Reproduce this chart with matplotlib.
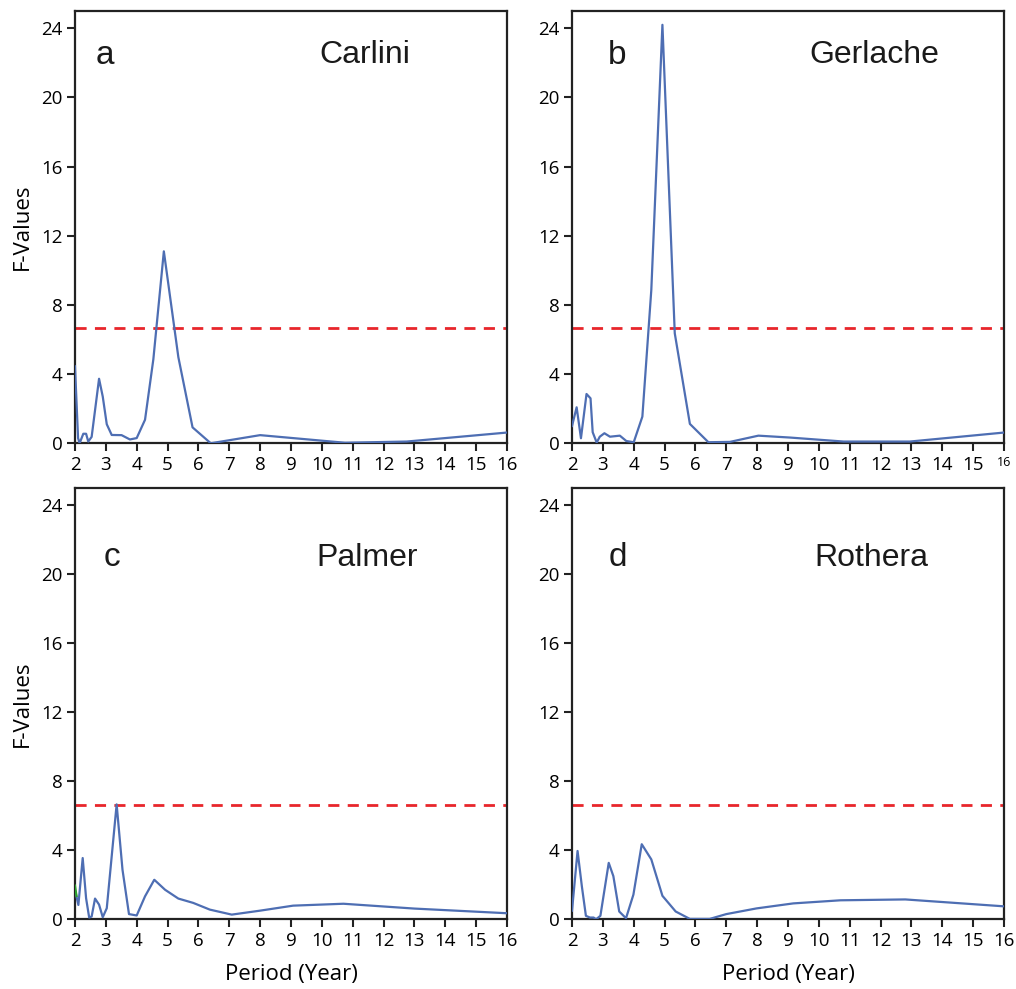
import numpy as np
import matplotlib.pyplot as plt

# Periods (years) and F-values
period_a = [2.0, 2.1, 2.15, 2.27, 2.36, 2.43, 2.54, 2.78, 2.9, 3.03, 3.19, 3.51, 3.78, 4.0,
            4.27, 4.54, 4.88, 5.35, 5.81, 6.4, 8.0, 10.75, 12.75, 16.0]
fval_a = [4.45, 0.3, 0.0, 0.55, 0.55, 0.1, 0.37, 3.73, 2.7, 1.1, 0.48, 0.47, 0.22, 0.3,
          1.36, 4.86, 11.1, 4.98, 0.92, 0.0, 0.47, 0.03, 0.1, 0.62]

period_b = [2.0, 2.15, 2.29, 2.47, 2.6, 2.67, 2.8, 2.9, 3.05, 3.23, 3.55, 3.76, 4.0,
            4.28, 4.57, 4.93, 5.33, 5.82, 6.42, 7.12, 8.04, 9.07, 10.8, 12.95, 16.0]
fval_b = [1.0, 2.08, 0.29, 2.85, 2.6, 0.64, 0.04, 0.38, 0.58, 0.38, 0.44, 0.13, 0.06,
          1.54, 8.87, 24.2, 6.36, 1.12, 0.06, 0.08, 0.44, 0.33, 0.1, 0.1, 0.62]

period_c = [2.0, 2.11, 2.25, 2.36, 2.46, 2.54, 2.65, 2.78, 2.9, 3.03, 3.35, 3.54, 3.75, 4.0,
            4.27, 4.57, 4.92, 5.35, 5.83, 6.37, 7.08, 8.0, 9.07, 10.7, 13.0, 16.0]
fval_c = [1.7, 0.83, 3.55, 1.22, 0.1, 0.16, 1.2, 0.85, 0.12, 0.64, 6.66, 2.87, 0.3, 0.22,
          1.33, 2.29, 1.71, 1.2, 0.95, 0.56, 0.27, 0.5, 0.79, 0.9, 0.62, 0.35]
period_c_green = [2.0, 2.05]
fval_c_green = [1.95, 1.35]

period_d = [2.0, 2.18, 2.32, 2.45, 2.58, 2.7, 2.78, 2.92, 3.19, 3.34, 3.53, 3.75, 3.99,
            4.26, 4.57, 4.93, 5.36, 5.82, 6.46, 7.0, 7.98, 9.17, 10.7, 12.8, 16.0]
fval_d = [0.5, 3.96, 1.9, 0.2, 0.1, 0.1, 0.0, 0.2, 3.27, 2.5, 0.45, 0.06, 1.43,
          4.35, 3.47, 1.36, 0.45, 0.02, 0.02, 0.3, 0.63, 0.92, 1.1, 1.15, 0.75]

stations = ['Carlini', 'Gerlache', 'Palmer', 'Rothera']
letters = ['a', 'b', 'c', 'd']
threshold = 6.65
yticks = [0, 4, 8, 12, 16, 20, 24]
xticks = list(range(2, 17))

blue = '#4e6eb3'
red = '#e8262b'
tick_font = 'Open Sans'

fig = plt.figure(figsize=(10.16, 9.89), dpi=100)
pos = [[0.0738, 0.5518, 0.4252, 0.4371],
       [0.5630, 0.5518, 0.4252, 0.4371],
       [0.0738, 0.0705, 0.4252, 0.4361],
       [0.5630, 0.0705, 0.4252, 0.4361]]
# label positions in axes fractions: (letter x, station x, y)
label_pos = [(0.069, 0.671, 0.898), (0.104, 0.70, 0.898),
             (0.086, 0.676, 0.838), (0.106, 0.692, 0.838)]
periods = [period_a, period_b, period_c, period_d]
fvals = [fval_a, fval_b, fval_c, fval_d]

for i in range(4):
    ax = fig.add_axes(pos[i])
    ax.plot(periods[i], fvals[i], color=blue, lw=1.6, zorder=3)
    if i == 2:
        ax.plot(period_c_green, fval_c_green, color='#2ca02c', lw=1.6, zorder=4)
    ax.axhline(threshold, color=red, lw=2, dashes=(4, 3), zorder=2)
    ax.set_xlim(2, 16)
    ax.set_ylim(0, 25)
    ax.set_xticks(xticks)
    ax.set_yticks(yticks)
    ax.set_xticklabels([str(t) for t in xticks], fontfamily=tick_font, fontsize=13.5)
    if i == 1:
        ax.get_xticklabels()[-1].set_fontsize(9)
    ax.set_yticklabels([str(t) for t in yticks], fontfamily=tick_font, fontsize=13.5)
    ax.tick_params(direction='out', length=6, width=1.5, color='#222222', pad=3)
    for s in ax.spines.values():
        s.set_linewidth(1.6)
        s.set_color('#222222')
    lx, sx, ly = label_pos[i]
    ax.text(lx, ly, letters[i], transform=ax.transAxes, fontsize=24,
            fontfamily='Liberation Sans', va='center', ha='center', color='#1a1a1a')
    ax.text(sx, ly, stations[i], transform=ax.transAxes, fontsize=23,
            fontfamily='Liberation Sans', va='center', ha='center', color='#1a1a1a')
    if i in (0, 2):
        ax.set_ylabel('F-Values', fontfamily=tick_font, fontsize=16, labelpad=6)
    if i in (2, 3):
        ax.set_xlabel('Period (Year)', fontfamily=tick_font, fontsize=16, labelpad=10)

fig.savefig('out.png', dpi=100)
